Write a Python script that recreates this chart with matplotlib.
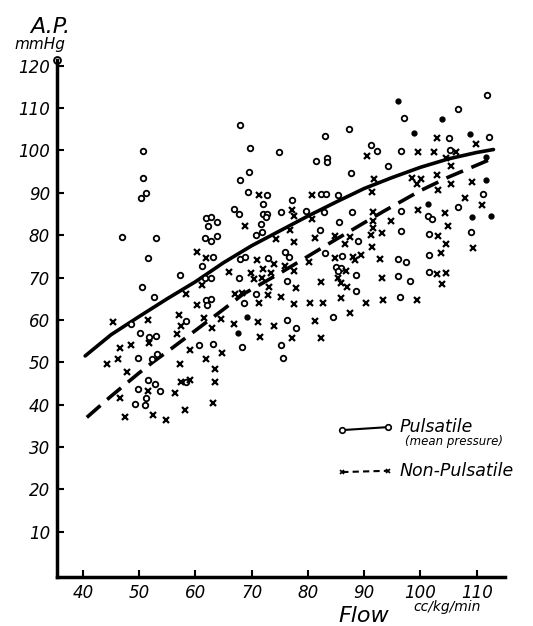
import matplotlib
matplotlib.use('Agg')
import matplotlib.pyplot as plt

# pulsatile, open circles
puls_x = [50.7, 50.6, 51.3, 50.4, 61.9, 62.8, 63.9, 62.3, 47.0, 53.0, 61.7, 62.8, 63.9,
          68.0, 83.0, 87.3, 69.7, 74.9, 81.5, 83.4, 83.4, 69.5, 87.6, 67.9, 69.3, 72.8,
          82.3, 83.2, 85.3, 77.1, 72.1, 66.8, 67.7, 72.0, 72.8, 72.6, 75.3, 79.6, 82.9,
          87.8, 85.5, 71.6, 71.9, 70.7, 82.2, 88.9,
          111.9, 106.7, 97.1, 105.1, 112.2, 91.2, 92.2, 96.5, 105.3, 94.2, 111.1, 106.7,
          96.6, 101.3, 102.1, 96.6, 101.5, 109.0,
          63.1, 61.2, 51.6, 57.2, 61.7, 62.8, 50.5, 52.6, 61.8, 62.7, 62.0, 48.5, 58.4,
          50.1, 51.8, 53.0, 53.2, 49.8, 52.2, 60.6, 63.1, 51.6, 52.8, 53.7, 49.8, 51.3,
          49.2, 51.0, 58.3,
          75.9, 76.6, 83.0, 67.9, 68.9, 72.9, 86.1, 85.0, 85.9, 85.3, 88.5, 67.7, 76.2,
          88.6, 70.8, 68.6, 84.4, 76.3, 77.8, 68.3, 75.3, 75.6,
          96.0, 97.4, 101.5, 96.0, 98.2, 101.6, 96.4]
puls_y = [99.8, 93.4, 89.9, 88.7, 84.0, 84.2, 83.2, 82.2, 79.6, 79.3, 79.3, 78.6, 79.8,
          106.1, 103.4, 105.0, 100.5, 99.6, 97.4, 98.3, 97.3, 94.8, 94.7, 92.9, 90.1, 89.5,
          89.7, 89.7, 89.4, 88.4, 87.4, 86.2, 84.9, 85.1, 85.1, 84.2, 85.5, 85.8, 85.4,
          85.5, 83.0, 82.6, 80.8, 80.0, 81.1, 78.5,
          113.1, 109.8, 107.7, 102.9, 103.1, 101.3, 99.8, 99.8, 100.1, 96.4, 89.7, 86.6,
          85.7, 84.4, 83.8, 81.0, 80.2, 80.7,
          74.9, 72.8, 74.5, 70.6, 69.8, 70.0, 67.8, 65.4, 64.7, 64.9, 63.5, 59.1, 59.8,
          56.8, 56.0, 56.3, 51.9, 50.9, 50.8, 54.1, 54.2, 45.8, 44.8, 43.3, 43.7, 41.6,
          40.1, 39.9, 45.4,
          76.1, 74.9, 75.9, 74.3, 74.9, 74.5, 75.1, 72.5, 72.3, 71.5, 70.6, 69.8, 69.2,
          66.8, 66.0, 64.0, 60.7, 60.0, 58.0, 53.7, 54.1, 51.1,
          74.4, 73.6, 75.3, 70.3, 69.2, 71.2, 65.4]

# filled dots
dot_x = [96.1, 103.8, 98.8, 108.9, 111.7, 111.7, 101.3, 109.2, 112.6, 69.1, 67.6]
dot_y = [111.7, 107.5, 104.1, 103.8, 98.5, 93.1, 87.3, 84.2, 84.6, 60.8, 56.8]

# non-pulsatile, crosses
nonp_x = [71.3, 80.7, 77.1, 77.6, 80.8, 68.8, 76.9, 74.4, 77.6, 81.3, 84.8, 87.4, 86.6,
          103.0, 90.5, 99.6, 102.5, 106.4, 109.8, 104.5, 105.5, 91.7, 91.4, 98.5, 100.1,
          99.4, 102.9, 105.4, 103.1, 109.2, 108.0, 111.0, 99.5, 91.6, 104.3, 91.6, 94.8,
          91.6, 93.1, 91.3, 103.2, 104.9, 104.5, 91.4, 109.3,
          60.2, 61.8, 61.2, 58.4, 60.2, 45.4, 51.6, 57.0, 57.5, 61.5, 63.0, 56.7, 51.8,
          46.6, 48.5, 59.0, 64.8, 46.3, 44.2, 47.8, 57.2, 61.8, 63.4, 51.5, 46.6, 56.3,
          57.5, 59.0, 63.4, 63.1, 47.5, 52.5, 54.7, 58.2,
          71.0, 74.0, 75.9, 72.0, 80.2, 84.8, 88.0, 88.3, 89.5, 86.8, 77.5, 66.0, 69.9,
          73.5, 70.5, 71.8, 85.3, 82.3, 85.9, 86.9, 73.1, 77.8, 67.0, 68.3, 72.9, 75.2,
          85.9, 71.3, 77.5, 80.3, 82.6, 87.4, 64.5, 66.8, 71.1, 73.9, 81.2, 71.5, 77.1,
          82.4,
          92.9, 103.6, 93.1, 102.9, 104.6, 103.8, 90.3, 93.3, 99.4]
nonp_y = [89.4, 89.4, 86.0, 84.5, 83.8, 82.1, 81.3, 79.2, 78.4, 79.4, 79.9, 79.6, 77.8,
          103.0, 98.7, 99.6, 99.6, 99.7, 101.4, 98.1, 96.2, 93.2, 90.2, 93.4, 93.2,
          92.0, 94.2, 92.1, 90.7, 92.5, 88.7, 87.0, 86.0, 85.4, 85.2, 83.3, 83.3,
          81.6, 80.6, 80.0, 79.9, 82.2, 77.8, 77.1, 76.9,
          76.1, 74.7, 68.2, 66.1, 63.5, 59.4, 60.0, 61.1, 58.5, 60.4, 58.2, 56.6, 54.5,
          53.3, 54.1, 52.9, 52.1, 50.8, 49.6, 47.8, 49.7, 50.7, 48.4, 43.3, 41.5, 42.8,
          45.4, 45.8, 45.4, 40.3, 37.0, 37.5, 36.5, 38.7,
          74.1, 73.3, 72.8, 72.0, 73.6, 74.7, 74.9, 74.1, 75.3, 71.5, 71.5, 71.4, 71.0,
          71.0, 69.6, 69.8, 70.0, 68.9, 68.6, 67.8, 67.8, 67.6, 66.0, 66.3, 65.9, 65.5,
          65.2, 63.9, 63.7, 64.1, 64.0, 61.7, 60.2, 59.0, 59.6, 58.5, 59.7, 56.0, 55.8,
          55.8,
          74.3, 75.7, 70.0, 70.8, 71.1, 68.5, 63.9, 64.8, 64.8]

# hand drawn trend curves
puls_curve_x = [40.4, 45, 50, 55, 60, 65, 70, 75, 80, 85, 90, 95, 100, 105, 110, 113]
puls_curve_y = [51.5, 56.5, 60.8, 65, 69, 73.5, 77.5, 81, 84.5, 87.8, 91, 93.6, 96, 98, 99.5, 100.2]
nonp_curve_x = [40.7, 45, 50, 52.4, 55, 60, 65, 68.4, 75, 80, 85, 93.3, 100, 105, 110, 113]
nonp_curve_y = [37, 42, 47.5, 50, 52.5, 57.5, 62.5, 66, 71, 75, 79, 85.5, 90.5, 93.7, 96.5, 98.2]

x_ticks = [40, 50, 60, 70, 80, 90, 100, 110]
y_ticks = [10, 20, 30, 40, 50, 60, 70, 80, 90, 100, 110, 120]

fig = plt.figure(figsize=(5.33, 6.26), dpi=100)
ax = fig.add_axes([0.107, 0.078, 0.84, 0.826])

ax.plot(puls_curve_x, puls_curve_y, color='black', lw=2.6, solid_capstyle='round')
ax.plot(nonp_curve_x, nonp_curve_y, color='black', lw=2.6, dashes=(5, 2.5))

ax.plot(puls_x, puls_y, 'o', mfc='white', mec='black', ms=4, mew=1.3, ls='none')
ax.plot(dot_x, dot_y, 'o', color='black', ms=3.5, ls='none')
ax.plot(nonp_x, nonp_y, 'x', color='black', ms=5, mew=1.6, ls='none')

ax.set_xlim(35.4, 115)
ax.set_ylim(-0.7, 121.3)
ax.spines['top'].set_visible(False)
ax.spines['right'].set_visible(False)
for s in ['left', 'bottom']:
    ax.spines[s].set_linewidth(2.5)
ax.set_xticks(x_ticks)
ax.set_yticks(y_ticks)
ax.tick_params(direction='in', length=5, width=1.5, labelsize=12, pad=5)
for lab in ax.get_xticklabels() + ax.get_yticklabels():
    lab.set_fontstyle('italic')
ax.plot([35.4], [121.3], 'o', mfc='white', mec='black', ms=5, mew=1.3, clip_on=False)

# axis titles
fig.text(0.095, 0.947, 'A.P.', fontsize=16, style='italic', ha='center')
fig.text(0.075, 0.922, 'mmHg', fontsize=11, style='italic', ha='center')
fig.text(0.635, 0.006, 'Flow', fontsize=16, style='italic')
fig.text(0.775, 0.024, 'cc/kg/min', fontsize=10, style='italic')

# legend drawn by hand
ax.plot([86.1, 94.2], [34.0, 34.7], color='black', lw=1.5, marker='o', ms=4, mfc='white', mew=1.2)
ax.text(96.3, 34.7, 'Pulsatile', fontsize=12.5, style='italic', va='center')
ax.text(97.3, 31.2, '(mean pressure)', fontsize=8.5, style='italic', va='center')
ax.plot([86.1, 94.2], [24.1, 24.4], color='black', lw=1.5, dashes=(3, 2), marker='x', ms=3.5, mew=1.2)
ax.text(96.3, 24.4, 'Non-Pulsatile', fontsize=12.5, style='italic', va='center')

fig.savefig('out.png', dpi=100)
